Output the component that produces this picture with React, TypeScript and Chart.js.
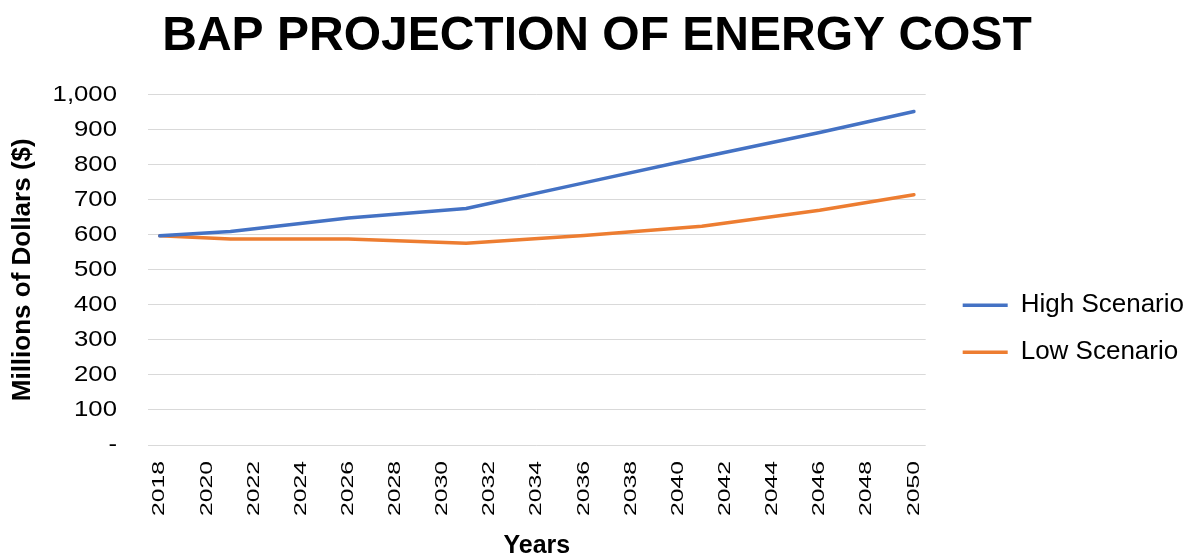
import { useEffect, useRef } from 'react';
import { Chart, registerables } from 'chart.js';

Chart.register(...registerables);

const years = [
  '2018', '2019', '2020', '2021', '2022', '2023', '2024', '2025', '2026', '2027', '2028',
  '2029', '2030', '2031', '2032', '2033', '2034', '2035', '2036', '2037', '2038', '2039',
  '2040', '2041', '2042', '2043', '2044', '2045', '2046', '2047', '2048', '2049', '2050',
];

const highYears = ['2018', '2021', '2026', '2031', '2036', '2041', '2046', '2050'];
const highValues = [597, 609, 648, 675, 748, 821, 892, 952];

const lowYears = ['2018', '2021', '2026', '2031', '2036', '2041', '2046', '2050'];
const lowValues = [597, 588, 588, 576, 598, 624, 670, 714];

const yTickValues = [0, 100, 200, 300, 400, 500, 600, 700, 800, 900, 1000];
const yTickLabels = ['-', '100', '200', '300', '400', '500', '600', '700', '800', '900', '1,000'];

const FONT = '"Liberation Sans", Arial, Helvetica, sans-serif';

const stretchTicks = {
  id: 'stretchTicks',
  afterDraw(chart: any) {
    const ctx = chart.ctx as CanvasRenderingContext2D;
    const xs = chart.scales.x;
    const ys = chart.scales.y;
    ctx.save();
    ctx.fillStyle = '#000000';
    ctx.font = `22px ${FONT}`;
    ctx.textAlign = 'right';
    ctx.textBaseline = 'middle';
    ys.ticks.forEach((t: any, i: number) => {
      const idx = yTickValues.indexOf(t.value);
      if (idx < 0) return;
      const py = ys.getPixelForTick(i);
      ctx.save();
      ctx.translate(ys.right - 31, py);
      ctx.scale(1.17, 1);
      ctx.fillText(yTickLabels[idx], 0, 0);
      ctx.restore();
    });
    ctx.font = `16.8px ${FONT}`;
    xs.ticks.forEach((t: any, i: number) => {
      if (!t.label) return;
      const px = xs.getPixelForTick(i);
      ctx.save();
      ctx.translate(px, xs.top + 16);
      ctx.rotate(-Math.PI / 2);
      ctx.scale(1.47, 1);
      ctx.textAlign = 'right';
      ctx.textBaseline = 'middle';
      ctx.fillText(String(t.label), 0, 0);
      ctx.restore();
    });
    ctx.restore();
  },
};

export default function App() {
  const ref = useRef<HTMLCanvasElement | null>(null);

  useEffect(() => {
    if (!ref.current) return;
    Chart.defaults.font.family = FONT;
    const chart = new Chart(ref.current, {
      type: 'line',
      data: {
        labels: years,
        datasets: [
          {
            label: 'High Scenario',
            data: highYears.map((x, i) => ({ x, y: highValues[i] })) as any,
            borderColor: '#4472C4',
            backgroundColor: '#4472C4',
            borderWidth: 3.5,
            pointRadius: 0,
            tension: 0,
            borderJoinStyle: 'round',
            borderCapStyle: 'round',
          },
          {
            label: 'Low Scenario',
            data: lowYears.map((x, i) => ({ x, y: lowValues[i] })) as any,
            borderColor: '#ED7D31',
            backgroundColor: '#ED7D31',
            borderWidth: 3.5,
            pointRadius: 0,
            tension: 0,
            borderJoinStyle: 'round',
            borderCapStyle: 'round',
          },
        ],
      },
      options: {
        responsive: false,
        animation: false,
        layout: { padding: 0 },
        plugins: {
          title: {
            display: true,
            text: 'BAP PROJECTION OF ENERGY COST',
            color: '#000000',
            font: { size: 48, weight: 'bold', lineHeight: 1.2 },
            padding: { top: 8, bottom: 29 },
          },
          legend: {
            position: 'right',
            align: 'center',
            maxWidth: 320,
            title: { display: true, text: ' ', font: { size: 12 }, padding: { top: 0, bottom: 89 } },
            labels: {
              color: '#000000',
              font: { size: 26 },
              usePointStyle: true,
              pointStyle: 'line',
              pointStyleWidth: 45,
              padding: 21,
            },
          },
          tooltip: { enabled: false },
        },
        scales: {
          x: {
            type: 'category',
            offset: true,
            grid: { display: false },
            border: { display: false },
            ticks: {
              autoSkip: false,
              minRotation: 90,
              maxRotation: 90,
              color: 'rgba(0,0,0,0)',
              font: { size: 24 },
              callback: (_v: any, i: number) => (i % 2 === 0 ? years[i] : null),
            },
            title: {
              display: true,
              text: 'Years',
              color: '#000000',
              font: { size: 25, weight: 'bold', lineHeight: 1 },
              padding: { top: 0, bottom: -5 },
            },
            afterFit: (s: any) => {
              s.height = 109;
            },
          },
          y: {
            min: 0,
            max: 1000,
            grid: { color: '#D9D9D9', lineWidth: 1, drawTicks: false },
            border: { display: false },
            ticks: {
              stepSize: 100,
              padding: 31,
              color: 'rgba(0,0,0,0)',
              font: { size: 22 },
              callback: (v: any) => {
                const idx = yTickValues.indexOf(Number(v));
                return idx >= 0 ? yTickLabels[idx] : '';
              },
            },
            title: {
              display: true,
              text: 'Millions of Dollars ($)',
              color: '#000000',
              font: { size: 26, weight: 'bold', lineHeight: 1.2 },
              padding: { top: 7, bottom: 0 },
            },
            afterFit: (s: any) => {
              s.width = 148;
            },
          },
          yR: {
            position: 'right',
            display: true,
            grid: { display: false },
            border: { display: false },
            ticks: { display: false },
            afterFit: (s: any) => {
              s.width = 16;
            },
          },
        },
      },
      plugins: [stretchTicks],
    } as any);
    return () => chart.destroy();
  }, []);

  return (
    <div style={{ position: 'fixed', left: 0, top: 0, width: 1194, height: 554, background: '#ffffff' }}>
      <canvas ref={ref} width={1194} height={554} />
    </div>
  );
}
